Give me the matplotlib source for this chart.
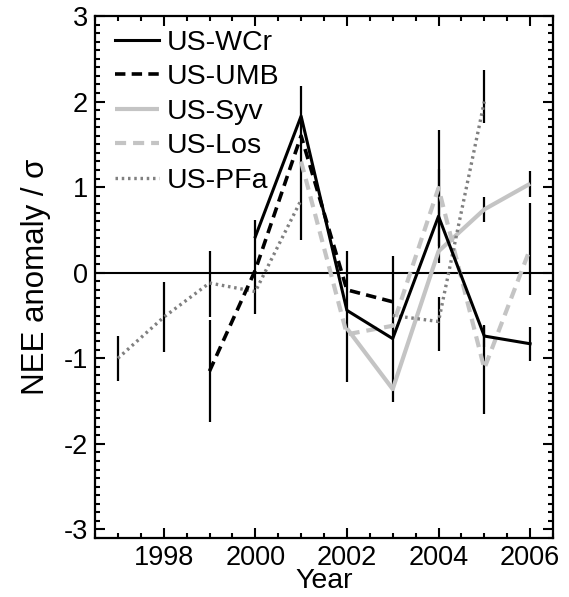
import numpy as np
import matplotlib
matplotlib.use("Agg")
import matplotlib.pyplot as plt
from matplotlib.ticker import MultipleLocator

plt.rcParams['font.family'] = ['Liberation Sans', 'DejaVu Sans']
plt.rcParams['axes.unicode_minus'] = False
plt.rcParams['lines.scale_dashes'] = False

nan = np.nan
years = [1997, 1998, 1999, 2000, 2001, 2002, 2003, 2004, 2005, 2006]

wcr = [nan, nan, nan, 0.42, 1.83, -0.44, -0.77, 0.66, -0.74, -0.83]
wcr_lo = [nan, nan, nan, nan, 1.45, 0.84, 0.74, 0.55, 0.13, 0.20]
wcr_hi = [nan, nan, nan, nan, 0.35, 0.69, 0.96, 0.55, 0.13, 0.19]

umb = [nan, nan, -1.15, 0.03, 1.60, -0.20, -0.34, nan, nan, nan]
umb_lo = [nan, nan, 0.60, 0.51, nan, nan, nan, nan, nan, nan]
umb_hi = [nan, nan, 0.60, 0.59, nan, nan, nan, nan, nan, nan]

syv = [nan, nan, nan, nan, nan, -0.65, -1.36, 0.25, 0.74, 1.04]
syv_lo = [nan, nan, nan, nan, nan, nan, nan, nan, 0.15, 0.15]
syv_hi = [nan, nan, nan, nan, nan, nan, nan, nan, 0.15, 0.15]

los = [nan, nan, nan, nan, 1.30, -0.72, -0.62, 0.99, -1.12, 0.28]
los_lo = [nan, nan, nan, nan, nan, nan, nan, 0.68, 0.53, 0.54]
los_hi = [nan, nan, nan, nan, nan, nan, nan, 0.68, 0.50, 0.54]

pfa = [-1.00, -0.52, -0.12, -0.22, 0.85, nan, -0.50, -0.57, 2.00, nan]
pfa_lo = [0.26, 0.41, 0.40, nan, nan, nan, nan, 0.34, 0.25, nan]
pfa_hi = [0.26, 0.41, 0.37, nan, nan, nan, nan, 0.29, 0.37, nan]

labels = ["US-WCr", "US-UMB", "US-Syv", "US-Los", "US-PFa"]

fig = plt.figure(figsize=(5.69, 5.97), dpi=100)
ax = fig.add_axes([95/569, 59/597, 458/569, 522/597])

x = np.array(years, dtype=float)

def errs(vals, lo, hi):
    v = np.array(vals); l = np.array(lo); h = np.array(hi)
    m = ~np.isnan(l)
    ax.vlines(x[m], v[m] - l[m], v[m] + h[m], color='black', lw=1.6, zorder=2)

ax.axhline(0, color='black', lw=1.5, zorder=1)

for vals, lo, hi in [(wcr, wcr_lo, wcr_hi), (umb, umb_lo, umb_hi), (syv, syv_lo, syv_hi),
                     (los, los_lo, los_hi), (pfa, pfa_lo, pfa_hi)]:
    errs(vals, lo, hi)

gray_l = '#c4c4c4'
gray_d = '#808080'
h_syv, = ax.plot(x, syv, color=gray_l, lw=3.0, solid_capstyle='butt', zorder=3)
h_los, = ax.plot(x, los, color=gray_l, lw=3.0, dashes=(8, 5), dash_capstyle='butt', zorder=3)
h_pfa, = ax.plot(x, pfa, color=gray_d, lw=2.4, dashes=(1.8, 2.7), dash_capstyle='butt', zorder=3)
h_wcr, = ax.plot(x, wcr, color='black', lw=2.2, zorder=4)
h_umb, = ax.plot(x, umb, color='black', lw=2.6, dashes=(7.5, 4.5), dash_capstyle='butt', zorder=4)

ax.set_xlim(1996.5, 2006.5)
ax.set_ylim(-3.1, 3.0)
ax.xaxis.set_major_locator(MultipleLocator(2))
ax.xaxis.set_minor_locator(MultipleLocator(0.5))
ax.yaxis.set_major_locator(MultipleLocator(1))
ax.yaxis.set_minor_locator(MultipleLocator(0.1))
ax.tick_params(which='both', direction='in', top=True, right=True, width=1.5, labelsize=19.5)
ax.tick_params(which='major', length=7)
ax.tick_params(which='minor', length=3.5)
ax.tick_params(axis='x', pad=5)
ax.tick_params(axis='y', pad=5)
for s in ax.spines.values():
    s.set_linewidth(1.6)

ax.set_xlabel("Year", fontsize=20.5, labelpad=-2)
ax.set_ylabel("NEE anomaly / σ", fontsize=22.5, labelpad=9)

leg = ax.legend([h_wcr, h_umb, h_syv, h_los, h_pfa], labels, loc='upper left',
                frameon=False, fontsize=20.5, handlelength=1.55, handletextpad=0.28,
                labelspacing=0.3, borderaxespad=0.0, borderpad=0.3,
                bbox_to_anchor=(0.025, 0.99))

fig.savefig("out.png", dpi=100)
